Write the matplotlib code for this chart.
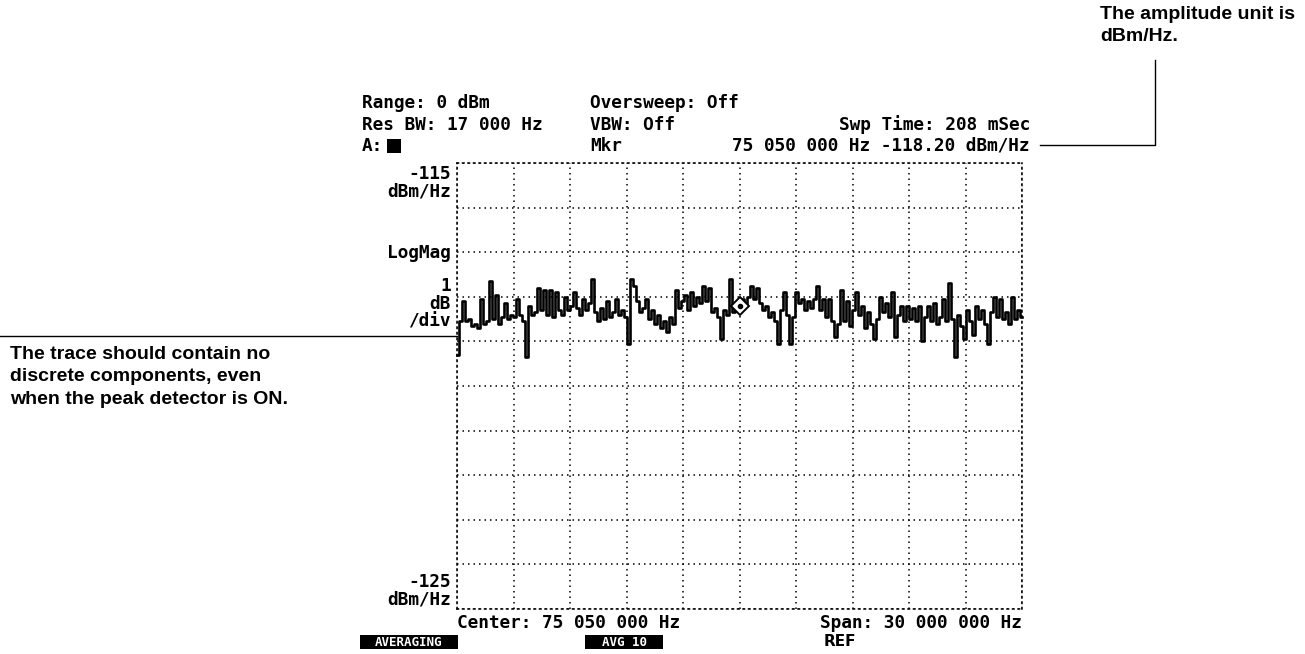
import numpy as np
import matplotlib
matplotlib.use("Agg")
import matplotlib.pyplot as plt
from matplotlib.lines import Line2D
from matplotlib.patches import Rectangle

# ---- data -------------------------------------------------------------
center_mhz = 75.05
span_mhz = 30.0
ref_top = -115.0
ref_bottom = -125.0
marker_freq = 75.05
marker_level = -118.20

trace_dbm_hz = [
    -119.30, -118.55, -118.10, -118.55, -118.50, -118.65, -118.60, -118.70, -118.05, -118.60,
    -118.55, -117.65, -118.50, -117.95, -118.60, -118.45, -118.15, -118.50, -118.40, -118.45,
    -118.05, -118.40, -118.55, -119.35, -118.20, -118.40, -118.35, -117.80, -118.30, -117.85,
    -118.40, -117.85, -118.45, -117.90, -118.30, -118.40, -118.00, -118.30, -118.20, -117.90,
    -118.25, -118.40, -118.05, -118.30, -118.15, -117.60, -118.35, -118.55, -118.25, -118.50,
    -118.10, -118.45, -118.35, -118.05, -118.40, -118.30, -118.45, -119.05, -117.60, -117.75,
    -118.10, -118.35, -118.25, -118.05, -118.50, -118.30, -118.60, -118.40, -118.70, -118.55,
    -118.80, -118.45, -118.60, -117.85, -118.25, -118.10, -117.95, -118.30, -117.90, -118.20,
    -118.00, -118.15, -117.75, -118.10, -117.80, -118.35, -118.25, -118.45, -118.95, -118.30,
    -118.40, -117.60, -118.35, -118.25, -118.20, -118.05, -118.20, -118.00, -117.75, -118.05,
    -117.80, -118.15, -118.30, -118.20, -118.45, -118.35, -118.55, -119.05, -118.30, -117.90,
    -118.40, -119.05, -118.45, -117.90, -118.15, -118.05, -118.30, -118.10, -118.25, -118.05,
    -117.75, -118.30, -118.05, -118.45, -118.05, -118.55, -118.90, -118.60, -117.85, -118.55,
    -118.10, -118.65, -118.30, -117.90, -118.40, -118.20, -118.70, -118.35, -118.60, -118.95,
    -118.50, -118.00, -118.35, -118.15, -118.45, -117.90, -118.90, -118.40, -118.20, -118.55,
    -118.20, -118.50, -118.25, -118.55, -118.20, -119.00, -118.45, -118.20, -118.55, -118.15,
    -118.60, -118.45, -118.05, -118.55, -117.70, -118.50, -119.35, -118.40, -118.65, -118.95,
    -118.30, -118.55, -118.85, -118.20, -118.50, -118.30, -118.60, -119.05, -118.35, -118.00,
    -118.45, -118.05, -118.50, -118.35, -118.60, -118.00, -118.50, -118.30, -118.45,
]

header_lines = {
    "range": "Range: 0 dBm",
    "oversweep": "Oversweep: Off",
    "resbw": "Res BW: 17 000 Hz",
    "vbw": "VBW: Off",
    "swp": "Swp Time: 208 mSec",
    "a": "A:",
    "mkr": "Mkr",
    "mkrval": "75 050 000 Hz -118.20 dBm/Hz",
}
left_labels = ["-115\ndBm/Hz", "LogMag", "1\ndB\n/div", "-125\ndBm/Hz"]
bottom_left = "Center: 75 050 000 Hz"
bottom_right = "Span: 30 000 000 Hz"
softkeys = ["AVERAGING", "AVG 10", "REF"]
note_top = "The amplitude unit is\ndBm/Hz."
note_left = "The trace should contain no\ndiscrete components, even\nwhen the peak detector is ON."

# ---- figure -----------------------------------------------------------
W, H = 1305, 654
fig = plt.figure(figsize=(W / 100, H / 100), dpi=100)
fig.patch.set_facecolor("white")


def fx(x):
    return x / W


def fy(y):
    return 1 - y / H


ax_l, ax_r, ax_t, ax_b = 457, 1022, 163, 609
ax = fig.add_axes([fx(ax_l), fy(ax_b), (ax_r - ax_l) / W, (ax_b - ax_t) / H])
f0 = center_mhz - span_mhz / 2
f1 = center_mhz + span_mhz / 2
ax.set_xlim(f0, f1)
ax.set_ylim(ref_bottom, ref_top)
ax.set_xticks(np.linspace(f0, f1, 11))
ax.set_yticks(np.linspace(ref_bottom, ref_top, 11))
ax.tick_params(length=0, labelbottom=False, labelleft=False)
ax.grid(True, color="black", linestyle=(0, (1, 2.6)), linewidth=1.1)
for s in ax.spines.values():
    s.set_linestyle((0, (1, 2.6)))
    s.set_linewidth(1.1)
ax.set_axisbelow(True)

freqs = np.linspace(f0, f1, len(trace_dbm_hz))
ax.plot(freqs, trace_dbm_hz, color="black", linewidth=1.9, drawstyle="steps-mid",
        clip_on=False)
ax.plot([marker_freq], [marker_level], marker="D", markersize=9, markerfacecolor="white",
        markeredgecolor="black", markeredgewidth=1.4, zorder=5)
ax.plot([marker_freq], [marker_level], marker="o", markersize=3, color="black", zorder=6)

mono = dict(family="DejaVu Sans Mono", fontweight="bold", fontsize=12.8, color="black")

fig.text(fx(362), fy(103), header_lines["range"], ha="left", va="center", **mono)
fig.text(fx(590), fy(103), header_lines["oversweep"], ha="left", va="center", **mono)
fig.text(fx(362), fy(125), header_lines["resbw"], ha="left", va="center", **mono)
fig.text(fx(590), fy(125), header_lines["vbw"], ha="left", va="center", **mono)
fig.text(fx(1030), fy(125), header_lines["swp"], ha="right", va="center", **mono)
fig.text(fx(362), fy(146), header_lines["a"], ha="left", va="center", **mono)
fig.patches.append(Rectangle((fx(387), fy(153)), 14 / W, 14 / H, transform=fig.transFigure,
                             facecolor="black", edgecolor="none"))
fig.text(fx(590), fy(146), header_lines["mkr"], ha="left", va="center", **mono)
fig.text(fx(1030), fy(146), header_lines["mkrval"], ha="right", va="center", **mono)

# left side labels
fig.text(fx(451), fy(183), left_labels[0], ha="right", va="center", linespacing=1.0, **mono)
fig.text(fx(451), fy(253), left_labels[1], ha="right", va="center", **mono)
fig.text(fx(451), fy(304), left_labels[2], ha="right", va="center", linespacing=1.0, **mono)
fig.text(fx(451), fy(591), left_labels[3], ha="right", va="center", linespacing=1.0, **mono)

fig.text(fx(457), fy(623), bottom_left, ha="left", va="center", **mono)
fig.text(fx(1022), fy(623), bottom_right, ha="right", va="center", **mono)

# softkey labels
for (x0, x1), label in zip([(360, 458), (585, 663)], softkeys[:2]):
    fig.patches.append(Rectangle((fx(x0), fy(649)), (x1 - x0) / W, 14 / H,
                                 transform=fig.transFigure, facecolor="black",
                                 edgecolor="none"))
    fig.text(fx((x0 + x1) / 2), fy(642), label, ha="center", va="center",
             family="DejaVu Sans Mono", fontweight="bold", fontsize=9, color="white")
fig.text(fx(824), fy(642), softkeys[2], ha="left", va="center",
         family="DejaVu Sans", fontweight="bold", fontsize=11, color="black")

# annotations
note = dict(family="Liberation Sans", fontweight="bold", fontsize=14, color="black",
            linespacing=1.42)
fig.text(fx(1100), fy(6), note_top, ha="left", va="top", **note)
fig.text(fx(10), fy(346), note_left, ha="left", va="top", **note)

fig.add_artist(Line2D([fx(1040), fx(1155), fx(1155)], [fy(145), fy(145), fy(60)],
                      transform=fig.transFigure, color="black", linewidth=1.0))
fig.add_artist(Line2D([fx(0), fx(457)], [fy(336), fy(336)],
                      transform=fig.transFigure, color="black", linewidth=1.0))

fig.savefig("out.png", dpi=100, facecolor="white")
